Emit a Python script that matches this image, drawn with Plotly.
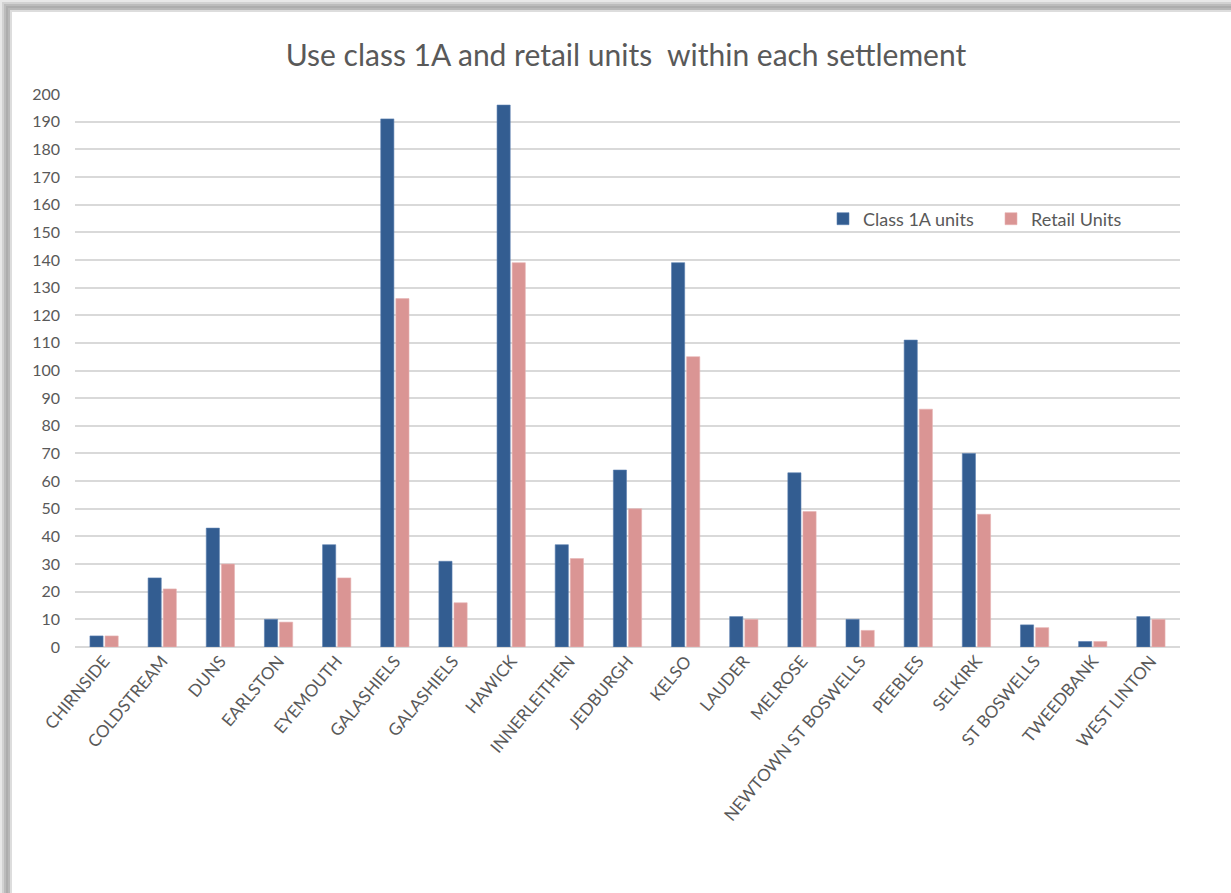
import plotly.graph_objects as go

settlements = ["CHIRNSIDE", "COLDSTREAM", "DUNS", "EARLSTON", "EYEMOUTH", "GALASHIELS",
               "GALASHIELS", "HAWICK", "INNERLEITHEN", "JEDBURGH", "KELSO", "LAUDER",
               "MELROSE", "NEWTOWN ST BOSWELLS", "PEEBLES", "SELKIRK", "ST BOSWELLS",
               "TWEEDBANK", "WEST LINTON"]
class_1a_units = [4, 25, 43, 10, 37, 191, 31, 196, 37, 64, 139, 11, 63, 10, 111, 70, 8, 2, 11]
retail_units = [4, 21, 30, 9, 25, 126, 16, 139, 32, 50, 105, 10, 49, 6, 86, 48, 7, 2, 10]
y_ticks = list(range(0, 201, 10))

W, H = 1231, 893
ML, MR, MT, MB = 75, 51, 94, 246
positions = list(range(len(settlements)))

FONT = "Lato, 'Open Sans', sans-serif"
GREY = "#595959"

fig = go.Figure()
fig.add_trace(go.Bar(x=positions, y=class_1a_units, name="Class 1A units",
                     marker=dict(color="#335d91", line=dict(color="#5a7fb0", width=0.6))))
fig.add_trace(go.Bar(x=positions, y=retail_units, name="Retail Units",
                     marker=dict(color="#da9594", line=dict(color="#e8b4b3", width=0.6))))


def px_x(p):
    return (p - ML) / (W - ML - MR)


def px_y(p):
    return 1 - (p - MT) / (H - MT - MB)


# soft drop shadow along the top and left edges of the chart frame
shapes = []
bands = [(0, "#e8e8e8"), (2, "#d2d2d2"), (4, "#bcbcbc"), (6, "#adadad"), (8, "#b8b8b8"), (10, "#dddddd")]
for off, col in bands:
    shapes.append(dict(type="rect", xref="paper", yref="paper", layer="below",
                       x0=px_x(off), x1=px_x(W), y0=px_y(off), y1=px_y(off + 2),
                       fillcolor=col, line=dict(width=0)))
for off, col in bands:
    shapes.append(dict(type="rect", xref="paper", yref="paper", layer="below",
                       x0=px_x(off), x1=px_x(off + 2), y0=px_y(off), y1=px_y(H),
                       fillcolor=col, line=dict(width=0)))

fig.update_layout(
    width=W, height=H,
    margin=dict(l=ML, r=MR, t=MT, b=MB, autoexpand=False),
    paper_bgcolor="white", plot_bgcolor="rgba(0,0,0,0)",
    title=dict(text="Use class 1A and retail units  within each settlement",
               xref="container", x=626 / W, xanchor="center",
               yref="container", y=1 - 55 / H, yanchor="middle",
               font=dict(family=FONT, size=30, color=GREY)),
    barmode="group", bargap=0.48, bargroupgap=0.13,
    legend=dict(orientation="h", x=px_x(823), y=px_y(219), xanchor="left", yanchor="middle",
                font=dict(family=FONT, size=18, color=GREY), bgcolor="rgba(0,0,0,0)",
                entrywidth=123, entrywidthmode="pixels", traceorder="normal"),
    shapes=shapes,
    xaxis=dict(tickmode="array", tickvals=positions, ticktext=settlements, tickangle=-50,
               range=[-0.5, len(settlements) - 0.5], showgrid=False, showline=False,
               zeroline=False, ticks="", tickfont=dict(family=FONT, size=17, color=GREY)),
    yaxis=dict(range=[0, 200], tickmode="array", tickvals=y_ticks, showgrid=True,
               gridcolor="#d9d9d9", gridwidth=1.5, zeroline=True, zerolinecolor="#d9d9d9",
               zerolinewidth=1.5, showline=False, ticks="", ticklabelstandoff=14,
               tickfont=dict(family=FONT, size=16, color=GREY)),
    showlegend=True,
)

fig.write_html("out.html")
